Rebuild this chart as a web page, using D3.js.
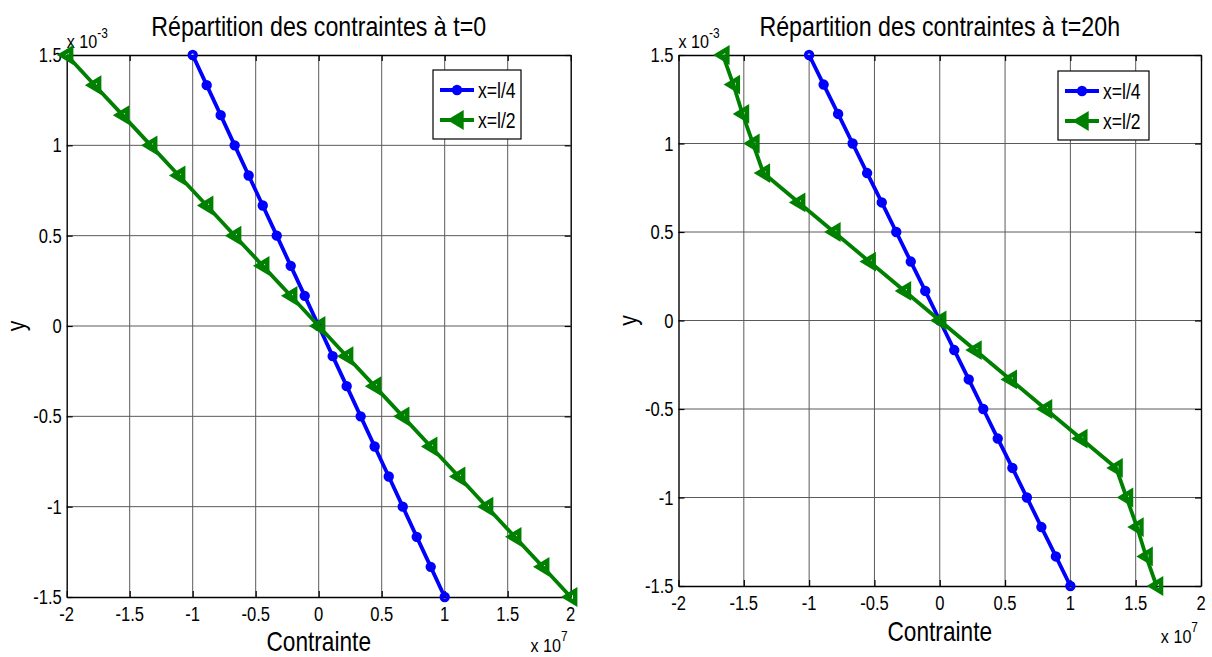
<!DOCTYPE html>
<html>
<head>
<meta charset="utf-8">
<script src="https://cdn.jsdelivr.net/npm/d3@7"></script>
<style>
  html, body { margin: 0; padding: 0; background: #fff; }
  svg { display: block; }
  text { font-family: "Liberation Sans", Arial, sans-serif; fill: #000; }
</style>
</head>
<body>
<svg id="chart" width="1212" height="657"></svg>
<script>
// ---- data (y in units of 1e-3, contrainte in units of 1e7) ----
const yValues = [1.5, 1.333, 1.167, 1, 0.833, 0.667, 0.5, 0.333, 0.167, 0,
  -0.167, -0.333, -0.5, -0.667, -0.833, -1, -1.167, -1.333, -1.5];
const quarterT0 = [-1, -0.889, -0.778, -0.667, -0.556, -0.444, -0.333, -0.222, -0.111, 0,
  0.111, 0.222, 0.333, 0.444, 0.556, 0.667, 0.778, 0.889, 1];
const halfT0 = [-2, -1.778, -1.556, -1.333, -1.111, -0.889, -0.667, -0.444, -0.222, 0,
  0.222, 0.444, 0.667, 0.889, 1.111, 1.333, 1.556, 1.778, 2];
const quarterT20 = [-1, -0.889, -0.778, -0.667, -0.556, -0.444, -0.333, -0.222, -0.111, 0,
  0.111, 0.222, 0.333, 0.444, 0.556, 0.667, 0.778, 0.889, 1];
const halfT20 = [-1.66, -1.58, -1.51, -1.43, -1.35, -1.08, -0.81, -0.54, -0.27, 0,
  0.27, 0.54, 0.81, 1.08, 1.35, 1.43, 1.51, 1.58, 1.66];
const xTicks = [-2, -1.5, -1, -0.5, 0, 0.5, 1, 1.5, 2];
const yTicks = [-1.5, -1, -0.5, 0, 0.5, 1, 1.5];
const seriesNames = ["x=l/4", "x=l/2"];
const titles = ["Répartition des contraintes à t=0", "Répartition des contraintes à t=20h"];
const xLabel = "Contrainte";
const yLabel = "y";

const BLUE = "#0000ff", GREEN = "#008000";
const K = 0.85; // horizontal condensation of the MATLAB font

const svg = d3.select("#chart");
const fmt = v => String(v).replace("\u2212", "-");

function ctext(g, x, y, str, size, anchor, rotate, k) {
  const t = g.append("text")
    .attr("transform", `translate(${x},${y})` + (rotate ? ` rotate(${rotate})` : "") + ` scale(${k || K},1)`)
    .attr("text-anchor", anchor || "start")
    .style("font-size", size + "px")
    .text(str);
  return t;
}

function panel(cfg) {
  const g = svg.append("g");
  const x = d3.scaleLinear().domain([-2, 2]).range([cfg.x0, cfg.x1]);
  const y = d3.scaleLinear().domain([-1.5, 1.5]).range([cfg.y1, cfg.y0]);

  // grid
  g.append("g").selectAll("line.gx").data(xTicks.slice(1, -1)).join("line")
    .attr("x1", d => x(d)).attr("x2", d => x(d))
    .attr("y1", cfg.y0).attr("y2", cfg.y1)
    .attr("stroke", "#5a5a5a").attr("stroke-width", 1);
  g.append("g").selectAll("line.gy").data(yTicks.slice(1, -1)).join("line")
    .attr("y1", d => y(d)).attr("y2", d => y(d))
    .attr("x1", cfg.x0).attr("x2", cfg.x1)
    .attr("stroke", "#5a5a5a").attr("stroke-width", 1);

  // axes with inward ticks on all four sides
  const axB = d3.axisBottom(x).tickValues(xTicks).tickSizeInner(-6).tickSizeOuter(0).tickFormat("");
  const axT = d3.axisTop(x).tickValues(xTicks).tickSizeInner(-6).tickSizeOuter(0).tickFormat("");
  const axL = d3.axisLeft(y).tickValues(yTicks).tickSizeInner(-6).tickSizeOuter(0).tickFormat("");
  const axR = d3.axisRight(y).tickValues(yTicks).tickSizeInner(-6).tickSizeOuter(0).tickFormat("");
  [[axB, `translate(0,${cfg.y1})`], [axT, `translate(0,${cfg.y0})`],
   [axL, `translate(${cfg.x0},0)`], [axR, `translate(${cfg.x1},0)`]].forEach(([ax, tr]) => {
    const a = g.append("g").attr("transform", tr).call(ax);
    a.selectAll("path").attr("stroke", "#000").attr("stroke-width", 1.4);
    a.selectAll("line").attr("stroke", "#000").attr("stroke-width", 1.2);
  });

  // tick labels
  xTicks.forEach(v => ctext(g, x(v), cfg.y1 + 23.5, fmt(v), 19.5, "middle"));
  yTicks.forEach(v => ctext(g, cfg.x0 - 5, y(v) + 7, fmt(v), 19.5, "end"));

  // exponents
  const e1 = ctext(g, cfg.x0, cfg.y0 - 7, "x 10", 19, "start");
  e1.append("tspan").attr("dy", -10).style("font-size", "14px").text("-3");
  const e2 = ctext(g, cfg.x1 - 3, cfg.y1 + cfg.expDy, "x 10", 19, "end");
  e2.append("tspan").attr("dy", -11).style("font-size", "14px").text("7");

  // title & labels
  ctext(g, (cfg.x0 + cfg.x1) / 2, cfg.y0 - 19, cfg.title, 27, "middle", null, 0.86);
  ctext(g, (cfg.x0 + cfg.x1) / 2, cfg.y1 + cfg.labDy, xLabel, 27, "middle", null, 0.84);
  ctext(g, cfg.x0 - 42, (cfg.y0 + cfg.y1) / 2, yLabel, 25, "middle", -90);

  // series
  const line = d3.line().x(d => x(d[0])).y(d => y(d[1]));
  const tri = "M-5.5,0L4.5,-6L4.5,6Z";
  const series = [
    { vals: cfg.quarter, color: BLUE, marker: "circle" },
    { vals: cfg.half, color: GREEN, marker: "tri" }
  ];
  series.forEach(s => {
    const pts = s.vals.map((v, i) => [v, yValues[i]]);
    g.append("path").datum(pts).attr("d", line)
      .attr("fill", "none").attr("stroke", s.color).attr("stroke-width", 3.8)
      .attr("stroke-linejoin", "round");
    if (s.marker === "circle") {
      g.append("g").selectAll("circle").data(pts).join("circle")
        .attr("cx", d => x(d[0])).attr("cy", d => y(d[1])).attr("r", 3.4)
        .attr("fill", "none").attr("stroke", s.color).attr("stroke-width", 3.6);
    } else {
      g.append("g").selectAll("path").data(pts).join("path")
        .attr("transform", d => `translate(${x(d[0])},${y(d[1])})`)
        .attr("d", tri).attr("fill", "none").attr("stroke", s.color)
        .attr("stroke-width", 4.4).attr("stroke-linejoin", "miter");
    }
  });

  // legend
  const lg = g.append("g").attr("transform", `translate(${cfg.legX},${cfg.legY})`);
  lg.append("rect").attr("x", 0).attr("y", 0).attr("width", cfg.legW).attr("height", 69)
    .attr("fill", "#fff").attr("stroke", "#000").attr("stroke-width", 1.2);
  series.forEach((s, i) => {
    const yy = 20 + i * 30;
    lg.append("line").attr("x1", 7).attr("x2", 41).attr("y1", yy).attr("y2", yy)
      .attr("stroke", s.color).attr("stroke-width", 3.8);
    if (s.marker === "circle") {
      lg.append("circle").attr("cx", 24).attr("cy", yy).attr("r", 3.4)
        .attr("fill", "none").attr("stroke", s.color).attr("stroke-width", 3.6);
    } else {
      lg.append("path").attr("transform", `translate(24,${yy})`).attr("d", tri)
        .attr("fill", "none").attr("stroke", s.color).attr("stroke-width", 4.4);
    }
    ctext(lg, 45, yy + 8, seriesNames[i], 22, "start", null, 0.8);
  });
}

panel({ x0: 66.7, x1: 570.7, y0: 55, y1: 597, title: titles[0],
  quarter: quarterT0, half: halfT0, legX: 433, legY: 70, legW: 88, labDy: 54, expDy: 55 });
panel({ x0: 678.5, x1: 1201, y0: 55, y1: 586, title: titles[1],
  quarter: quarterT20, half: halfT20, legX: 1058, legY: 71, legW: 91, labDy: 55, expDy: 57 });
</script>
</body>
</html>
